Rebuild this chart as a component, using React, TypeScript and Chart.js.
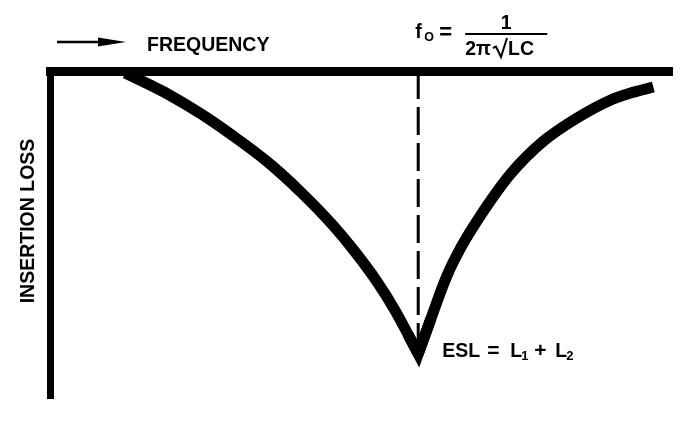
import React, { useEffect, useRef } from "react";
import { Chart, registerables } from "chart.js";

Chart.register(...registerables);

// Relative frequency (0..100) and insertion loss (0 = top, 100 = bottom), arbitrary units
const LEFT_FREQ = [12.1, 16.1, 18.8, 24.1, 29.4, 34.9, 40.2, 45.5, 49.0, 52.6, 55.5, 57.6, 59.2];
const LEFT_LOSS = [0.6, 4.3, 6.9, 12.9, 19.8, 27.7, 36.8, 47.2, 55.2, 64.5, 73.3, 80.7, 86.5];
const RIGHT_FREQ = [59.2, 61.3, 63.8, 66.2, 68.7, 74.0, 79.3, 84.7, 90.0, 93.6, 97.0];
const RIGHT_LOSS = [86.5, 75.4, 62.7, 53.5, 45.7, 31.6, 21.5, 14.4, 9.0, 6.6, 4.9];
const RESONANCE_FREQ = 59.2;
const RESONANCE_LOSS = 86.5;

const X_TITLE = "FREQUENCY";
const Y_TITLE = "INSERTION LOSS";
const ESL_PARTS = ["ESL", "=", "L", "1", "+", "L", "2"];
const F0_LEFT = ["f", "O", "="];
const F0_NUM = "1";
const F0_DEN = ["2π", "LC"];

const toPts = (xs: number[], ys: number[]) => xs.map((x, i) => ({ x, y: ys[i] }));

const FONT = (s: number) => `bold ${s}px "Liberation Sans", Arial, Helvetica, sans-serif`;

const annotations = {
  id: "annotations",
  afterDraw(chart: any) {
    const ctx = chart.ctx as CanvasRenderingContext2D;
    const xs = chart.scales.x;
    const ys = chart.scales.y;
    const vx = xs.getPixelForValue(RESONANCE_FREQ);
    const vy = ys.getPixelForValue(RESONANCE_LOSS);
    ctx.save();
    ctx.fillStyle = "#000";
    ctx.strokeStyle = "#000";
    ctx.textAlign = "left";
    ctx.textBaseline = "alphabetic";

    // arrow
    ctx.lineWidth = 2.5;
    ctx.beginPath();
    ctx.moveTo(57, 42);
    ctx.lineTo(102, 42);
    ctx.stroke();
    ctx.beginPath();
    ctx.moveTo(98, 37.5);
    ctx.lineTo(126, 42);
    ctx.lineTo(98, 46.5);
    ctx.closePath();
    ctx.fill();

    // x title
    ctx.font = FONT(19.5);
    ctx.fillText(X_TITLE, 147, 51);

    // y title
    ctx.save();
    ctx.translate(34, 221);
    ctx.rotate(-Math.PI / 2);
    ctx.textAlign = "center";
    ctx.fillText(Y_TITLE, 0, 0);
    ctx.restore();

    // f0 formula
    const fx = vx - 3;
    ctx.font = FONT(19.5);
    ctx.fillText(F0_LEFT[0], fx, 38);
    ctx.font = FONT(12.5);
    ctx.fillText(F0_LEFT[1], fx + 9, 41);
    ctx.font = FONT(22);
    ctx.fillText(F0_LEFT[2], fx + 24, 39);
    const barL = vx + 47;
    const barR = vx + 129;
    ctx.lineWidth = 2;
    ctx.beginPath();
    ctx.moveTo(barL, 34);
    ctx.lineTo(barR, 34);
    ctx.stroke();
    ctx.font = FONT(19.5);
    ctx.textAlign = "center";
    ctx.fillText(F0_NUM, (barL + barR) / 2, 29);
    ctx.textAlign = "left";
    ctx.fillText(F0_DEN[0], barL, 55);
    const w2pi = ctx.measureText(F0_DEN[0]).width;
    const rx = barL + w2pi + 2;
    ctx.lineWidth = 2;
    ctx.beginPath();
    ctx.moveTo(rx, 48);
    ctx.lineTo(rx + 3, 46.5);
    ctx.lineTo(rx + 8, 57);
    ctx.lineTo(rx + 14, 38);
    ctx.stroke();
    ctx.fillText(F0_DEN[1], rx + 15, 55);

    // ESL label
    const ex = vx + 24;
    const ey = vy + 3;
    const offs = [0, 45, 68, 79, 92, 113, 124];
    ESL_PARTS.forEach((p, i) => {
      const sub = i === 3 || i === 6;
      ctx.font = sub ? FONT(13) : FONT(i === 1 || i === 4 ? 21 : 19.5);
      ctx.fillText(p, ex + offs[i], sub ? ey + 3 : ey);
    });

    ctx.restore();
  },
};

export default function App() {
  const ref = useRef<HTMLCanvasElement | null>(null);
  useEffect(() => {
    if (!ref.current) return;
    const left = toPts(LEFT_FREQ, LEFT_LOSS);
    const right = toPts(RIGHT_FREQ, RIGHT_LOSS);
    const n = left.length;
    const tip = [left[n - 2], left[n - 1], right[1]];
    const common = {
      borderColor: "#000",
      backgroundColor: "#000",
      pointRadius: 0,
      showLine: true,
      fill: false,
      clip: false as any,
      borderCapStyle: "butt" as const,
    };
    const chart = new Chart(ref.current, {
      type: "scatter",
      data: {
        datasets: [
          { ...common, data: left, borderWidth: 11, cubicInterpolationMode: "monotone" },
          { ...common, data: right, borderWidth: 11, cubicInterpolationMode: "monotone" },
          { ...common, data: tip, borderWidth: 11, tension: 0, borderJoinStyle: "miter" },
          {
            ...common,
            data: [
              { x: RESONANCE_FREQ, y: 0 },
              { x: RESONANCE_FREQ, y: RESONANCE_LOSS },
            ],
            borderWidth: 3,
            borderDash: [28, 8],
            tension: 0,
          },
        ],
      },
      options: {
        animation: false,
        responsive: false,
        layout: { padding: { left: 50, top: 71, right: 10, bottom: 27 } },
        plugins: { legend: { display: false }, tooltip: { enabled: false } },
        events: [],
        scales: {
          x: {
            type: "linear",
            position: "top",
            min: 0,
            max: 100,
            ticks: { display: false },
            grid: { display: false, drawTicks: false, tickLength: 0 },
            border: { display: true, width: 9, color: "#000" },
          },
          y: {
            type: "linear",
            position: "left",
            reverse: true,
            min: 0,
            max: 100,
            ticks: { display: false },
            grid: { display: false, drawTicks: false, tickLength: 0 },
            border: { display: true, width: 7, color: "#000" },
          },
        },
      },
      plugins: [annotations],
    });
    return () => chart.destroy();
  }, []);
  return (
    <div style={{ position: "fixed", left: 0, top: 0, width: 682, height: 425, background: "#fff" }}>
      <canvas ref={ref} width={682} height={425} style={{ display: "block" }} />
    </div>
  );
}
